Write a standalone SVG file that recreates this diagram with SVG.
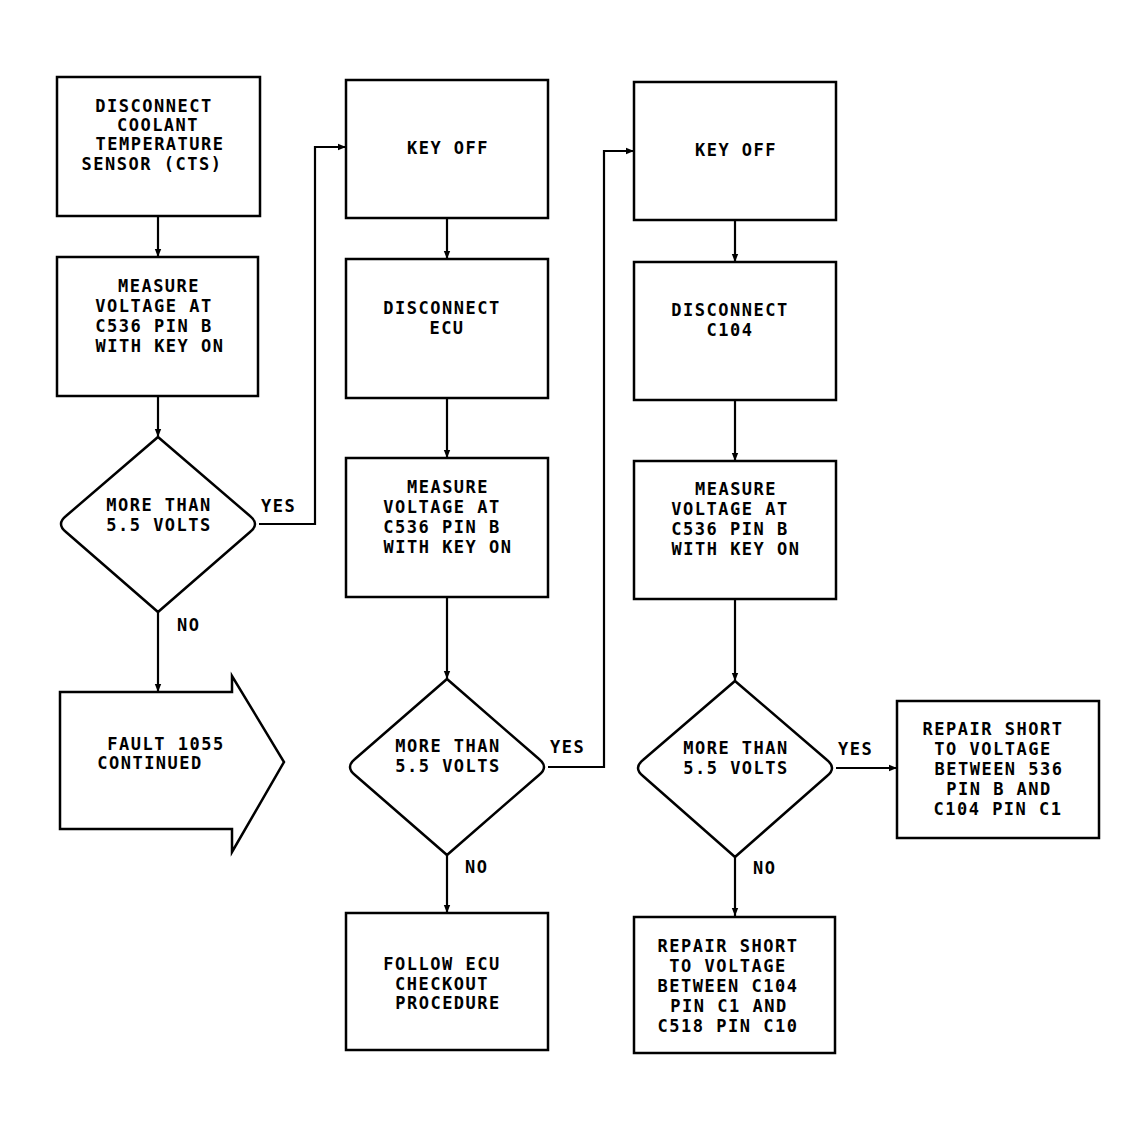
<svg xmlns="http://www.w3.org/2000/svg" width="1138" height="1131" viewBox="0 0 1138 1131">
<defs>
<marker id="ah" viewBox="0 0 10 10" refX="10" refY="5" markerWidth="8" markerHeight="8" markerUnits="userSpaceOnUse" orient="auto">
<path d="M0,1 L10,5 L0,9 Z" fill="#000"/>
</marker>
<style>
.box{fill:#fff;stroke:#000;stroke-width:2.5}
.t{font-family:"DejaVu Sans Mono","Liberation Mono",monospace;font-size:17px;font-weight:bold;letter-spacing:1.5px;fill:#000;text-anchor:middle}
.l{font-family:"DejaVu Sans Mono","Liberation Mono",monospace;font-size:17px;font-weight:bold;letter-spacing:1.5px;fill:#000}
.c{fill:none;stroke:#000;stroke-width:2.2;marker-end:url(#ah)}
</style>
</defs>
<rect width="1138" height="1131" fill="#fff"/>
<g id="connectors">
<path class="c" d="M158,216 V257"/>
<path class="c" d="M158,396 V437"/>
<path class="c" d="M259,524 H315 V147 H346"/>
<path class="c" d="M158,612 V692"/>
<path class="c" d="M447,218 V259"/>
<path class="c" d="M447,398 V458"/>
<path class="c" d="M447,597 V679"/>
<path class="c" d="M548,767 H604 V151 H634"/>
<path class="c" d="M447,855 V913"/>
<path class="c" d="M735,220 V262"/>
<path class="c" d="M735,400 V461"/>
<path class="c" d="M735,599 V681"/>
<path class="c" d="M836,768 H897"/>
<path class="c" d="M735,857 V916"/>
<text class="l" x="261" y="512">YES</text>
<text class="l" x="177" y="631">NO</text>
<text class="l" x="550" y="753">YES</text>
<text class="l" x="465" y="873">NO</text>
<text class="l" x="838" y="755">YES</text>
<text class="l" x="753" y="874">NO</text>
</g>
<g id="n1">
<rect class="box" x="57" y="77" width="203" height="139"/>
<text class="t" x="154" y="112">DISCONNECT</text>
<text class="t" x="158" y="131">COOLANT</text>
<text class="t" x="160" y="150">TEMPERATURE</text>
<text class="t" x="152" y="170">SENSOR (CTS)</text>
</g>
<g id="n2">
<rect class="box" x="57" y="257" width="201" height="139"/>
<text class="t" x="159" y="292">MEASURE</text>
<text class="t" x="154" y="312">VOLTAGE AT</text>
<text class="t" x="154" y="332">C536 PIN B</text>
<text class="t" x="160" y="352">WITH KEY ON</text>
</g>
<g id="d1">
<path class="box" d="M158,437 L250,516 Q260,524 250,532 L158,612 L66,532 Q56,524 66,516 Z"/>
<text class="t" x="159" y="511">MORE THAN</text>
<text class="t" x="159" y="531">5.5 VOLTS</text>
</g>
<g id="fault">
<path class="box" d="M60,692 H232 V676 L284,762 L232,852 V829 H60 Z"/>
<text class="t" x="166" y="750">FAULT 1055</text>
<text class="t" x="150" y="769">CONTINUED</text>
</g>
<g id="n3">
<rect class="box" x="346" y="80" width="202" height="138"/>
<text class="t" x="448" y="154">KEY OFF</text>
</g>
<g id="n4">
<rect class="box" x="346" y="259" width="202" height="139"/>
<text class="t" x="442" y="314">DISCONNECT</text>
<text class="t" x="447" y="334">ECU</text>
</g>
<g id="n5">
<rect class="box" x="346" y="458" width="202" height="139"/>
<text class="t" x="448" y="493">MEASURE</text>
<text class="t" x="442" y="513">VOLTAGE AT</text>
<text class="t" x="442" y="533">C536 PIN B</text>
<text class="t" x="448" y="553">WITH KEY ON</text>
</g>
<g id="d2">
<path class="box" d="M447,679 L539,759 Q549,767 539,775 L447,855 L355,775 Q345,767 355,759 Z"/>
<text class="t" x="448" y="752">MORE THAN</text>
<text class="t" x="448" y="772">5.5 VOLTS</text>
</g>
<g id="n6">
<rect class="box" x="346" y="913" width="202" height="137"/>
<text class="t" x="442" y="970">FOLLOW ECU</text>
<text class="t" x="442" y="990">CHECKOUT</text>
<text class="t" x="448" y="1009">PROCEDURE</text>
</g>
<g id="n7">
<rect class="box" x="634" y="82" width="202" height="138"/>
<text class="t" x="736" y="156">KEY OFF</text>
</g>
<g id="n8">
<rect class="box" x="634" y="262" width="202" height="138"/>
<text class="t" x="730" y="316">DISCONNECT</text>
<text class="t" x="730" y="336">C104</text>
</g>
<g id="n9">
<rect class="box" x="634" y="461" width="202" height="138"/>
<text class="t" x="736" y="495">MEASURE</text>
<text class="t" x="730" y="515">VOLTAGE AT</text>
<text class="t" x="730" y="535">C536 PIN B</text>
<text class="t" x="736" y="555">WITH KEY ON</text>
</g>
<g id="d3">
<path class="box" d="M735,681 L827,760 Q837,768 827,776 L735,857 L643,776 Q633,768 643,760 Z"/>
<text class="t" x="736" y="754">MORE THAN</text>
<text class="t" x="736" y="774">5.5 VOLTS</text>
</g>
<g id="n10">
<rect class="box" x="897" y="701" width="202" height="137"/>
<text class="t" x="993" y="735">REPAIR SHORT</text>
<text class="t" x="993" y="755">TO VOLTAGE</text>
<text class="t" x="999" y="775">BETWEEN 536</text>
<text class="t" x="999" y="795">PIN B AND</text>
<text class="t" x="998" y="815">C104 PIN C1</text>
</g>
<g id="n11">
<rect class="box" x="634" y="917" width="201" height="136"/>
<text class="t" x="728" y="952">REPAIR SHORT</text>
<text class="t" x="728" y="972">TO VOLTAGE</text>
<text class="t" x="728" y="992">BETWEEN C104</text>
<text class="t" x="729" y="1012">PIN C1 AND</text>
<text class="t" x="728" y="1032">C518 PIN C10</text>
</g>
</svg>
